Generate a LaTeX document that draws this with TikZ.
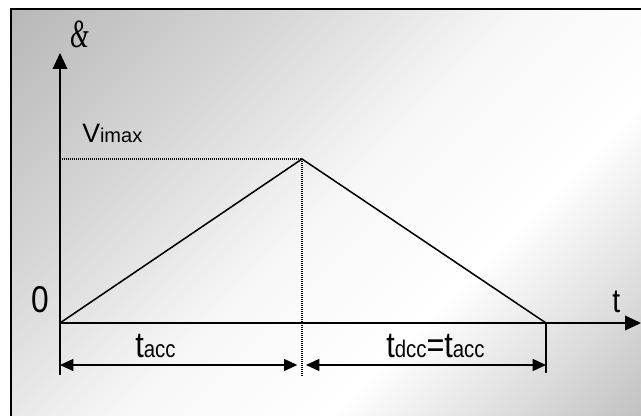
\documentclass[tikz,border=0pt]{standalone}
\usepackage{fontspec}
\usepackage{graphicx}
\setmainfont{Liberation Sans}
\newfontfamily\symfont{Liberation Serif}
\usetikzlibrary{arrows.meta}
\newcommand{\fs}[1]{\fontsize{#1}{#1}\selectfont}
\colorlet{bgA}{black!24}
\colorlet{bgB}{black!12}
\colorlet{bgC}{black!3}
\colorlet{bgD}{black!16}
\colorlet{bgE}{black!28}
\pgfdeclareverticalshading{bgshade}{100bp}{color(0bp)=(bgA); color(14.6bp)=(bgA); color(25bp)=(bgB); color(36bp)=(white); color(50bp)=(bgC); color(67bp)=(bgD); color(85.4bp)=(bgE); color(100bp)=(bgE)}
\begin{document}
\begin{tikzpicture}[x=0.75pt,y=-0.75pt,
  axis/.style={line width=1.2pt},
  curve/.style={line width=1.15pt},
  guide/.style={line width=0.8pt,dash pattern=on 0.75pt off 0.75pt},
  bigtip/.style={-{Triangle[length=12pt,width=11pt]}},
  dimline/.style={line width=1.1pt,{Triangle[length=10pt,width=9pt]}-{Triangle[length=10pt,width=9pt]}},
  lbl/.style={inner sep=0pt,anchor=base west}]
\useasboundingbox (0,0) rectangle (641,416);
% background
\fill[white] (0,0) rectangle (641,416);
\shade[shading=bgshade,shading angle=45] (11,9) rectangle (641,416);
\draw[line width=1.9pt] (11,416) -- (11,9) -- (641,9);
% points
\coordinate (O) at (60,323);
\coordinate (P) at (302,159);
\coordinate (E) at (546,323);
\coordinate (Ytip) at (60,53);
\coordinate (Xtip) at (641,323);
\coordinate (Ybot) at (60,375);
\coordinate (Ebot) at (546,373);
\coordinate (Pbot) at (302,377);
\coordinate (Vl) at (60,159);
\coordinate (DL) at (60,365);
\coordinate (DM) at (302,365);
\coordinate (DR) at (546,365);
% guides
\draw[guide] (Vl) -- (P);
\draw[guide] (P) -- (Pbot);
% axes
\draw[axis,bigtip] (Ybot) -- (Ytip);
\draw[axis,bigtip] (O) -- (Xtip);
\draw[axis] (E) -- (Ebot);
% profile
\draw[curve] (O) -- (P) -- (E);
% dimension arrows
\draw[dimline,shorten >=3.5pt] (DL) -- (DM);
\draw[dimline,shorten <=3pt] (DM) -- (DR);
% labels
\node[lbl] (sym) at (70,48) {\scalebox{0.75}[1.25]{\symfont\itshape\fs{24}\&}};
\node[lbl] (vmax) at (82,143) {\fs{20}V\fs{15}imax};
\node[inner sep=0pt,anchor=base] (zero) at (40,312) {\scalebox{0.85}[1]{\fs{28}0}};
\node[lbl] (tlab) at (612,312) {\scalebox{0.85}[1]{\fs{25}t}};
\node[lbl] (tacc) at (135,357) {\scalebox{0.85}[1]{\fs{27}t\fs{18}acc}};
\node[lbl] (tdcc) at (386,357) {\scalebox{0.85}[1]{\fs{27}t\fs{18}dcc\fs{27}=t\fs{18}acc}};
\end{tikzpicture}
\end{document}
